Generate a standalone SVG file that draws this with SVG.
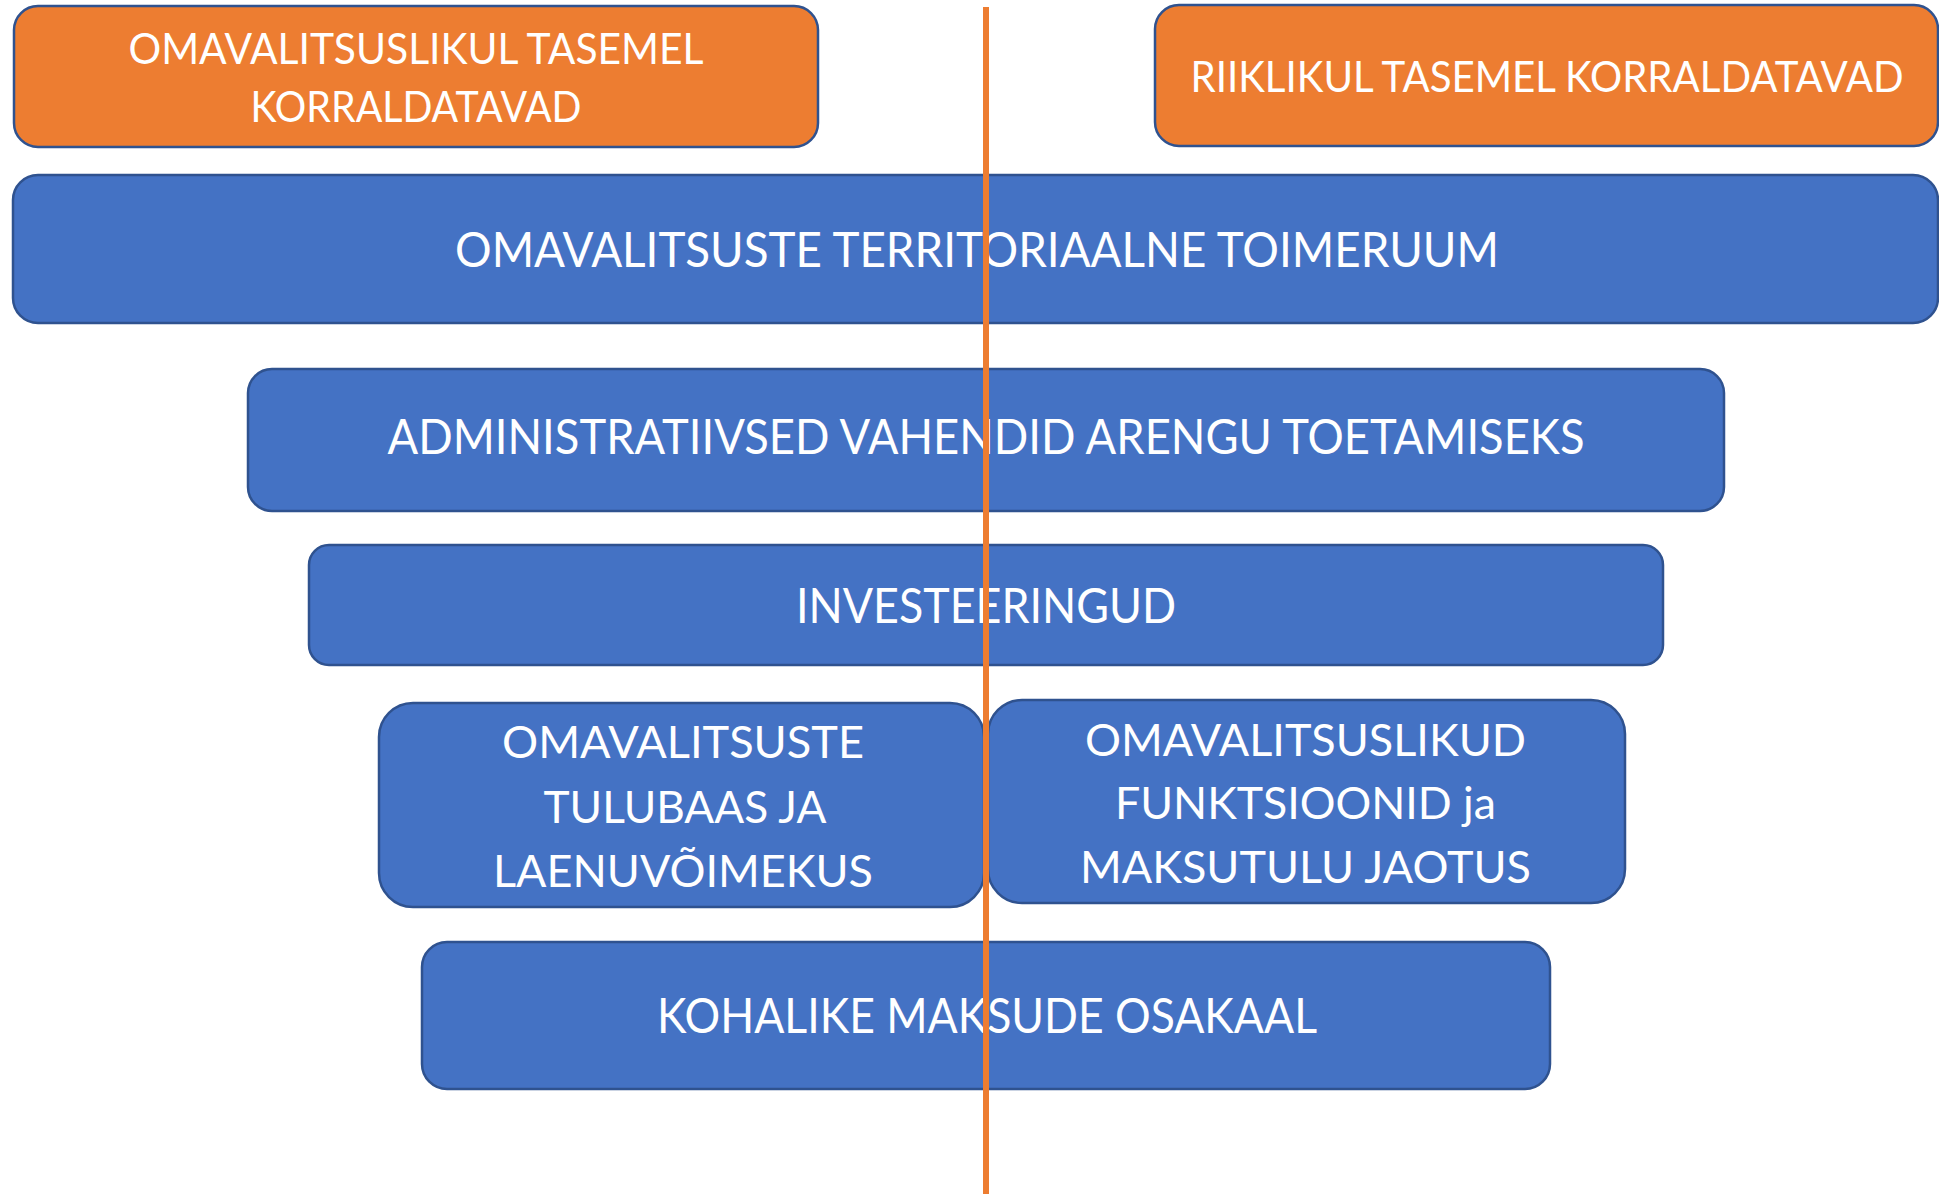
<svg xmlns="http://www.w3.org/2000/svg" width="1939" height="1194" viewBox="0 0 1939 1194">
<style>
  .box { stroke: #2F528F; stroke-width: 2.5; }
  .orange { fill: #ED7D31; }
  .blue { fill: #4472C4; }
  .t { font-family: Lato, "Open Sans", "Liberation Sans", sans-serif; fill: #FFFFFF; text-anchor: middle; lengthAdjust: spacingAndGlyphs; }
  .s42 { font-size: 42px; }
  .s45 { font-size: 45px; }
  .s48 { font-size: 48px; }
  .divider { stroke: #ED7D31; stroke-width: 6; fill: none; }
</style>
<rect width="1939" height="1194" fill="#FFFFFF"/>

<g id="node-omavalitsuslikul">
  <rect class="box orange" x="14" y="6" width="804" height="141" rx="24" ry="24"/>
  <text class="t s42" x="416" y="64" textLength="575" lengthAdjust="spacingAndGlyphs">OMAVALITSUSLIKUL TASEMEL</text>
  <text class="t s42" x="416" y="122" textLength="331" lengthAdjust="spacingAndGlyphs">KORRALDATAVAD</text>
</g>

<g id="node-riiklikul">
  <rect class="box orange" x="1155" y="5" width="783" height="141" rx="24" ry="24"/>
  <text class="t s42" x="1547" y="92" textLength="713" lengthAdjust="spacingAndGlyphs">RIIKLIKUL TASEMEL KORRALDATAVAD</text>
</g>

<g id="node-territoriaalne">
  <rect class="box blue" x="13" y="175" width="1925" height="148" rx="25" ry="25"/>
  <text class="t s48" x="977" y="267" textLength="1044" lengthAdjust="spacingAndGlyphs">OMAVALITSUSTE TERRITORIAALNE TOIMERUUM</text>
</g>

<g id="node-administratiivsed">
  <rect class="box blue" x="248" y="369" width="1476" height="142" rx="24" ry="24"/>
  <text class="t s48" x="986" y="454" textLength="1197" lengthAdjust="spacingAndGlyphs">ADMINISTRATIIVSED VAHENDID ARENGU TOETAMISEKS</text>
</g>

<g id="node-investeeringud">
  <rect class="box blue" x="309" y="545" width="1354" height="120" rx="20" ry="20"/>
  <text class="t s48" x="986" y="623" textLength="380" lengthAdjust="spacingAndGlyphs">INVESTEERINGUD</text>
</g>

<g id="node-tulubaas">
  <rect class="box blue" x="379" y="703" width="605" height="204" rx="34" ry="34"/>
  <text class="t s45" x="683" y="758" textLength="362" lengthAdjust="spacingAndGlyphs">OMAVALITSUSTE</text>
  <text class="t s45" x="685" y="823" textLength="283" lengthAdjust="spacingAndGlyphs">TULUBAAS JA</text>
  <text class="t s45" x="683" y="887" textLength="380" lengthAdjust="spacingAndGlyphs">LAENUVÕIMEKUS</text>
</g>

<g id="node-funktsioonid">
  <rect class="box blue" x="988" y="700" width="637" height="203" rx="34" ry="34"/>
  <text class="t s45" x="1305.5" y="756" textLength="441" lengthAdjust="spacingAndGlyphs">OMAVALITSUSLIKUD</text>
  <text class="t s45" x="1305.5" y="819" textLength="381" lengthAdjust="spacingAndGlyphs">FUNKTSIOONID ja</text>
  <text class="t s45" x="1305.5" y="883" textLength="451" lengthAdjust="spacingAndGlyphs">MAKSUTULU JAOTUS</text>
</g>

<g id="node-kohalike">
  <rect class="box blue" x="422" y="942" width="1128" height="147" rx="25" ry="25"/>
  <text class="t s48" x="987" y="1033" textLength="660" lengthAdjust="spacingAndGlyphs">KOHALIKE MAKSUDE OSAKAAL</text>
</g>

<g id="connectors">
  <line class="divider" x1="986" y1="7" x2="986" y2="1194"/>
</g>
</svg>
